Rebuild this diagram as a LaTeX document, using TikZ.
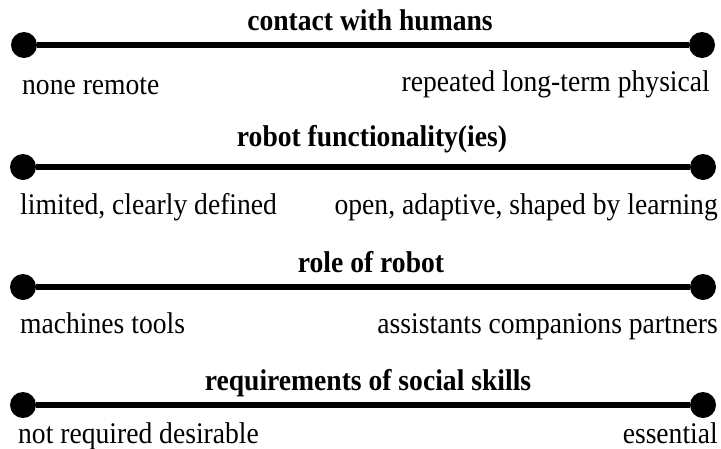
\documentclass[tikz,border=0pt]{standalone}
\usepackage{fontspec}
\setmainfont{Liberation Serif}[FakeStretch=0.92]
\begin{document}
\begin{tikzpicture}[x=1pt,y=-1pt,
    endpt/.style={circle,fill,inner sep=0pt,minimum size=26pt},
    bar/.style={line width=6.5pt},
    head/.style={font=\fontsize{30}{32}\selectfont\bfseries,inner sep=0pt,anchor=base},
    lab/.style={font=\fontsize{30}{32}\selectfont,inner sep=0pt}]
    \useasboundingbox (0,0) rectangle (721,448);
    \node[endpt] (a1) at (24,45) {};
    \node[endpt] (b1) at (702,45) {};
    \node[head] (t1) at (370,30) {contact with humans};
    \node[lab,anchor=base west] (l1) at (22,94) {none remote};
    \node[lab,anchor=base east] (r1) at (710,91) {repeated long-term physical};
    \node[endpt] (a2) at (23,167) {};
    \node[endpt] (b2) at (703,167) {};
    \node[head] (t2) at (372,146) {robot functionality(ies)};
    \node[lab,anchor=base west] (l2) at (20,214) {limited, clearly defined};
    \node[lab,anchor=base east] (r2) at (718,214) {open, adaptive, shaped by learning};
    \node[endpt] (a3) at (23,287) {};
    \node[endpt] (b3) at (703,287) {};
    \node[head] (t3) at (371,272) {role of robot};
    \node[lab,anchor=base west] (l3) at (20,333) {machines tools};
    \node[lab,anchor=base east] (r3) at (718,333) {assistants companions partners};
    \node[endpt] (a4) at (23,405) {};
    \node[endpt] (b4) at (703,405) {};
    \node[head] (t4) at (368,390) {requirements of social skills};
    \node[lab,anchor=base west] (l4) at (18,443) {not required desirable};
    \node[lab,anchor=base east] (r4) at (718,443) {essential};
    \draw [bar] (a1) to (b1);
    \draw [bar] (a2) to (b2);
    \draw [bar] (a3) to (b3);
    \draw [bar] (a4) to (b4);
  \end{tikzpicture}
\end{document}
